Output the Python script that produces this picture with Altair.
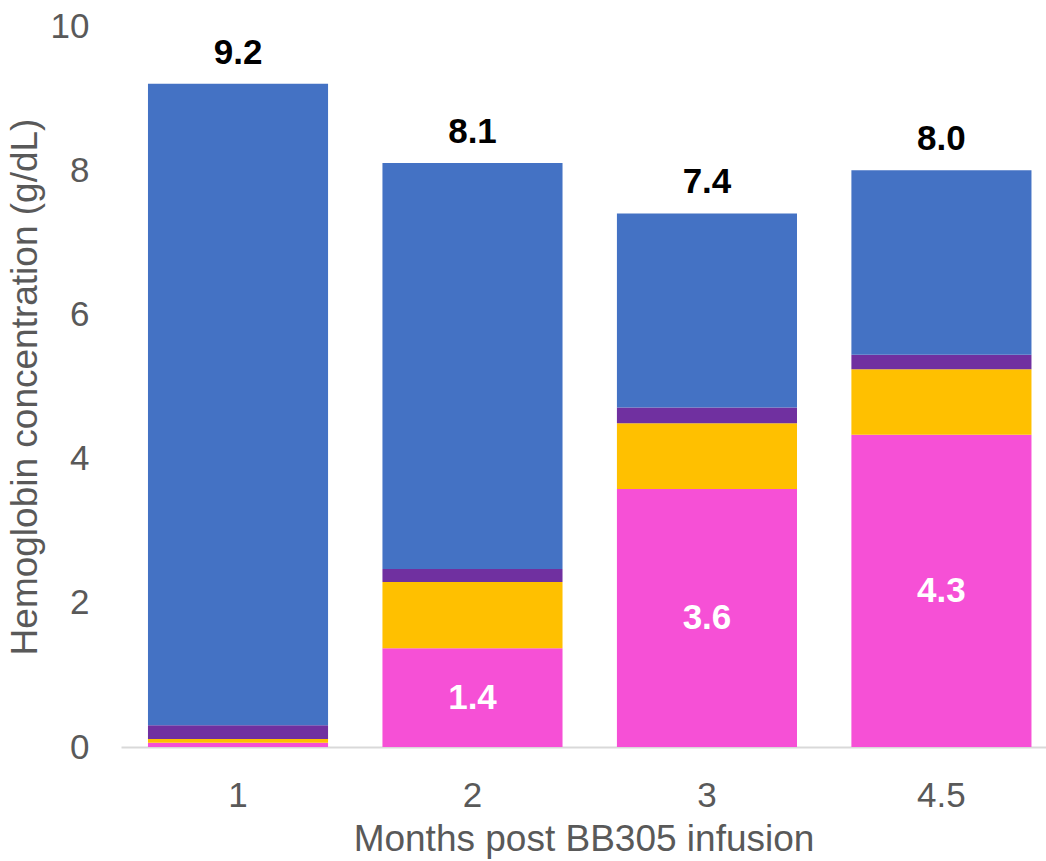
import altair as alt
import pandas as pd

months = ["1", "2", "3", "4.5"]
series = ["Pink", "Yellow", "Purple", "Blue"]
pink = [0.06, 1.37, 3.58, 4.33]
yellow = [0.05, 0.92, 0.91, 0.91]
purple = [0.19, 0.18, 0.22, 0.20]
blue = [8.90, 5.63, 2.69, 2.56]
totals = [9.2, 8.1, 7.4, 8.0]
pink_labels = ["", "1.4", "3.6", "4.3"]
colors = ["#F650D6", "#FFC000", "#7030A0", "#4472C4"]

rows = []
for i, m in enumerate(months):
    for k, (s, vals) in enumerate(zip(series, [pink, yellow, purple, blue])):
        rows.append({"month": m, "series": s, "value": vals[i], "order": k})
df = pd.DataFrame(rows)
df_tot = pd.DataFrame({"month": months, "total": totals})
df_pink = pd.DataFrame({"month": months, "pink": pink, "label": pink_labels})

FONT = "Liberation Sans"
GREY = "#595959"

x_enc = alt.X(
    "month:N",
    sort=months,
    scale=alt.Scale(paddingInner=0.232, paddingOuter=0.0885, align=0.65),
    axis=alt.Axis(
        title="Months post BB305 infusion",
        labelAngle=0,
        ticks=False,
        domainColor="#D9D9D9",
        domainWidth=2,
        labelFontSize=35,
        labelColor=GREY,
        labelFont=FONT,
        labelPadding=31,
        titleFontSize=37,
        titleFont=FONT,
        titleColor=GREY,
        titleFontWeight="normal",
        titlePadding=8,
    ),
)

y_scale = alt.Scale(domain=[0, 10], nice=False)

bars = alt.Chart(df).mark_bar().encode(
    x=x_enc,
    y=alt.Y(
        "value:Q",
        stack="zero",
        scale=y_scale,
        axis=alt.Axis(
            title="Hemoglobin concentration (g/dL)",
            values=[0, 2, 4, 6, 8, 10],
            format="d",
            grid=False,
            domain=False,
            ticks=False,
            labelFontSize=35,
            labelColor=GREY,
            labelFont=FONT,
            labelPadding=32,
            titleFontSize=37,
            titleFont=FONT,
            titleColor=GREY,
            titleFontWeight="normal",
            titlePadding=6,
        ),
    ),
    color=alt.Color("series:N", scale=alt.Scale(domain=series, range=colors), legend=None),
    order=alt.Order("order:Q", sort="ascending"),
)

tot_text = alt.Chart(df_tot).mark_text(
    fontSize=35, fontWeight="bold", font=FONT, color="black", baseline="middle", dy=-31
).encode(
    x=alt.X("month:N", sort=months),
    y=alt.Y("total:Q", scale=y_scale),
    text=alt.Text("total:Q", format=".1f"),
)

pink_text = alt.Chart(df_pink).transform_calculate(
    mid="datum.pink / 2"
).mark_text(
    fontSize=35, fontWeight="bold", font=FONT, color="white", baseline="middle"
).encode(
    x=alt.X("month:N", sort=months),
    y=alt.Y("mid:Q", scale=y_scale),
    text="label:N",
)

chart = alt.layer(bars, tot_text, pink_text).properties(
    width=925,
    height=721,
    background="white",
    autosize=alt.AutoSizeParams(type="none"),
    padding={"left": 121, "top": 26, "right": 0, "bottom": 114},
).configure_view(stroke=None, strokeWidth=0)

chart.save("out.html", embed_options={"renderer": "svg", "actions": False})
